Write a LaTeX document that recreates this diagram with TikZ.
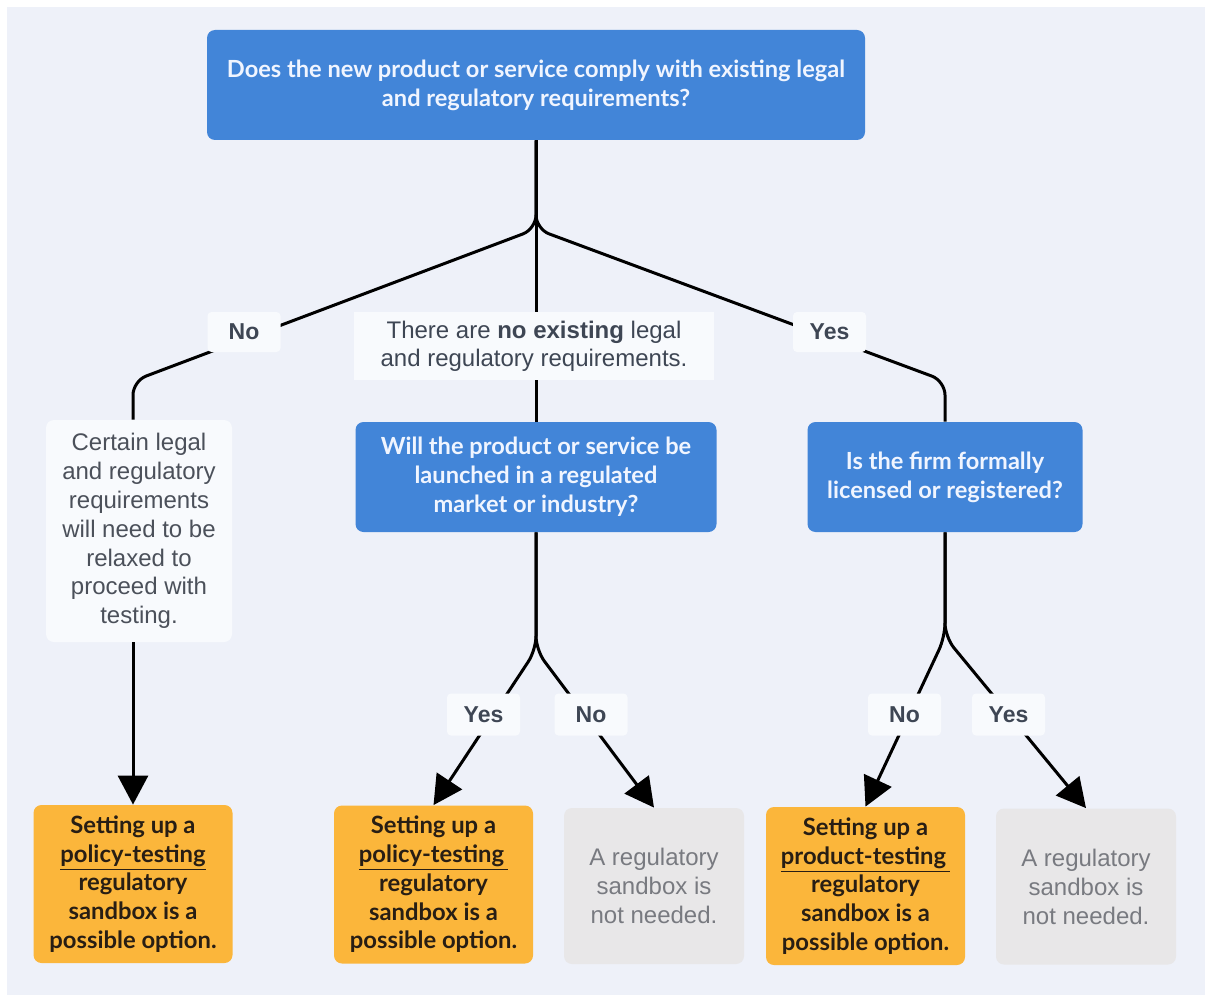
\documentclass[tikz,border=0pt]{standalone}
\usepackage{fontspec}
\setmainfont{Liberation Sans}
\newfontfamily\latofont{Lato}
\usepackage{tikz}
\usetikzlibrary{arrows.meta}
\usepackage{xcolor}
\definecolor{bglav}{RGB}{238,241,249}
\definecolor{qblue}{RGB}{66,133,216}
\definecolor{qtext}{RGB}{240,245,255}
\definecolor{optorange}{RGB}{251,182,59}
\definecolor{optink}{RGB}{40,30,20}
\definecolor{nonegray}{RGB}{232,231,232}
\definecolor{noneink}{RGB}{120,122,128}
\definecolor{tagwhite}{RGB}{248,250,253}
\definecolor{tagink}{RGB}{62,70,84}
\definecolor{caveatink}{RGB}{75,80,90}

\begin{document}
\begin{tikzpicture}[
    x=0.5pt, y=-0.5pt,
    question/.style={
        rectangle, rounded corners=4pt, fill=qblue, text=qtext,
        align=center, minimum height=55pt,
        font=\latofont\bfseries\fontsize{11.8}{14.5}\selectfont
    },
    option/.style={
        rectangle, rounded corners=4pt, fill=optorange, text=optink,
        align=center, minimum width=99.5pt, minimum height=79pt,
        font=\latofont\bfseries\fontsize{11.9}{14.4}\selectfont
    },
    nosandbox/.style={
        rectangle, rounded corners=4pt, fill=nonegray, text=noneink,
        align=center, minimum width=90pt, minimum height=78pt,
        font=\fontsize{12}{14.5}\selectfont
    },
    caveat/.style={
        rectangle, rounded corners=4pt, fill=tagwhite, text=caveatink,
        align=center, minimum width=93pt, minimum height=111pt,
        font=\fontsize{12}{14.4}\selectfont
    },
    choice/.style={
        rectangle, rounded corners=2pt, fill=tagwhite, text=tagink,
        minimum width=36.5pt, minimum height=21pt,
        font=\bfseries\fontsize{11.5}{14}\selectfont
    },
    wire/.style={line width=1.5pt, black, rounded corners=7pt},
    arrow/.style={wire, -{Triangle[length=14.5pt, width=15pt]}}
]

% Page and background
\useasboundingbox (0,0) rectangle (1205,995);
\fill[white] (0,0) rectangle (1205,995);
\fill[bglav] (7,7) rectangle (1206,996);

% Questions
\node[question, minimum width=329pt] (top) at (536,85)
    {Does the new product or service comply with existing legal\\and regulatory requirements?};
\node[question, minimum width=180.5pt] (mkt) at (536,477)
    {Will the product or service be\\launched in a regulated\\market or industry?};
\node[question, minimum width=137.5pt] (lic) at (945,477)
    {Is the firm formally\\licensed or registered?};

% Caveat box
\node[caveat] (cert) at (139,531)
    {Certain legal\\and regulatory\\requirements\\will need to be\\relaxed to\\proceed with\\testing.};

% Outcomes
\node[option] (polA) at (133,884)
    {Setting up a\\\underline{policy-testing}\\regulatory\\sandbox is a\\possible option.};
\node[option] (polB) at (433.5,884.5)
    {Setting up a\\\underline{policy-testing\,}\\regulatory\\sandbox is a\\possible option.};
\node[nosandbox] (noneB) at (654,886)
    {A regulatory\\sandbox is\\not needed.};
\node[option] (prodC) at (865.5,886)
    {Setting up a\\\underline{product-testing\,}\\regulatory\\sandbox is a\\possible option.};
\node[nosandbox] (noneC) at (1086,886.5)
    {A regulatory\\sandbox is\\not needed.};

% Branch points
\coordinate (forkA) at (536,229);
\coordinate (bendL) at (133,381);
\coordinate (bendR) at (945,381);
\coordinate (forkB) at (536,650);
\coordinate (forkC) at (945,637);

% First level
\draw[wire] (top.south) -- (forkA) -- (bendL) -- (bendL |- cert.north);
\draw[wire] (top.south) -- (mkt.north);
\draw[wire] (top.south) -- (forkA) -- (bendR) -- (lic.north);
\draw[arrow] (cert.south -| polA.north) -- (polA.north);

% Second level
\draw[arrow] (mkt.south) -- (forkB) -- (polB.north);
\draw[arrow] (mkt.south) -- (forkB) -- (noneB.north);
\draw[arrow] (lic.south) -- (forkC) -- (prodC.north);
\draw[arrow] (lic.south) -- (forkC) -- (noneC.north);

% Answer tags
\node[choice, minimum height=20pt] (noA) at (244,332) {No};
\node[choice, minimum height=20pt] (yesA) at (829.5,332) {Yes};
\node[rectangle, fill=tagwhite, text=tagink, align=center,
      minimum width=180pt, minimum height=34pt,
      font=\fontsize{12}{14}\selectfont] (nolaw) at (534,346)
    {There are \textbf{no existing} legal\\and regulatory requirements.};
\node[choice] (yesB) at (483.5,714.5) {Yes};
\node[choice] (noB) at (591,714.5) {No};
\node[choice] (noC) at (904.5,714.5) {No};
\node[choice] (yesC) at (1008.5,714.5) {Yes};

\end{tikzpicture}
\end{document}
